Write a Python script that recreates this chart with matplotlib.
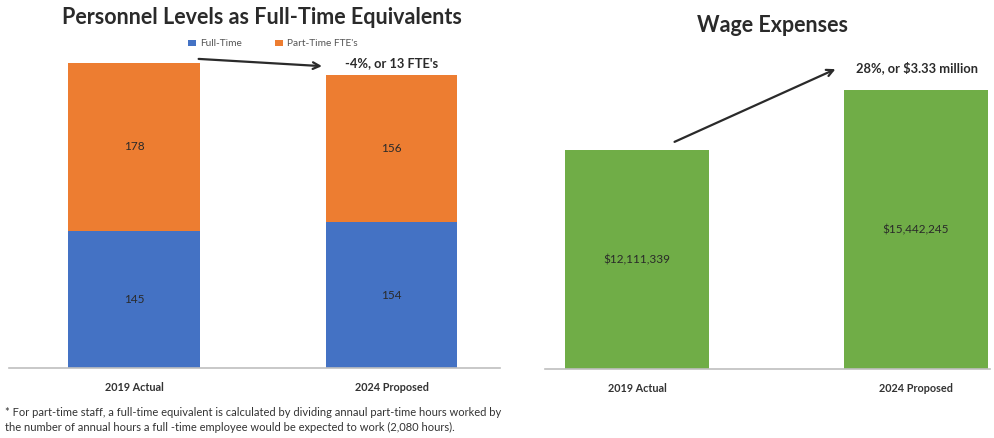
import matplotlib.pyplot as plt

# data
years = ['2019 Actual', '2024 Proposed']
full_time = [145, 154]
part_time = [178, 156]
wages = [12111339, 15442245]
wage_labels = ['$12,111,339', '$15,442,245']

BLUE = '#4472C4'
ORANGE = '#ED7D31'
GREEN = '#70AD47'
TXT = '#2a2a2a'

plt.rcParams['font.family'] = ['Lato', 'DejaVu Sans']

W, H = 995, 438
fig = plt.figure(figsize=(W / 100, H / 100), dpi=100)


def px_axes(x0, y_base, x1, y_top):
    return fig.add_axes([x0 / W, (H - y_base) / H, (x1 - x0) / W, (y_base - y_top) / H])


# ---- left: personnel ----
ax1 = px_axes(9, 368, 500, 37)
x = range(len(years))
ax1.bar(x, full_time, width=0.51, color=BLUE, label='Full-Time')
ax1.bar(x, part_time, width=0.51, bottom=full_time, color=ORANGE, label="Part-Time FTE's")
for i in x:
    ax1.text(i, full_time[i] / 2, str(full_time[i]), ha='center', va='center', fontsize=8.5, color=TXT)
    ax1.text(i, full_time[i] + part_time[i] / 2, str(part_time[i]), ha='center', va='center',
             fontsize=8.5, color=TXT)
ax1.set_xlim(-0.485, 1.42)
ax1.set_ylim(0, 350)

fig.text(262 / W, 1 - 18 / H, 'Personnel Levels as Full-Time Equivalents', ha='center', va='center',
         fontsize=15.5, fontweight='bold', color=TXT)
fig.legend(*ax1.get_legend_handles_labels(), loc='center', bbox_to_anchor=(273 / W, 1 - 44 / H),
           ncol=2, frameon=False, fontsize=7.3, handlelength=0.8, handleheight=0.5, columnspacing=3.2,
           handletextpad=0.4, labelcolor='#555555')

# change annotation sits just above the 2024 bar
top19 = full_time[0] + part_time[0]
top24 = full_time[1] + part_time[1]
ax1.annotate("-4%, or 13 FTE's", xy=(1, top24), xytext=(0, 4), textcoords='offset points',
             ha='center', va='bottom', fontsize=9.3, fontweight='bold', color=TXT)
ax1.annotate('', xy=(0.74, top24 + 9), xytext=(0.24, top19 + 4),
             arrowprops=dict(arrowstyle='->', color=TXT, lw=1.6, mutation_scale=12))

# ---- right: wages ----
ax2 = px_axes(545, 369, 990, 60)
ax2.bar(x, wages, width=0.516, color=GREEN)
for i in x:
    ax2.text(i, wages[i] / 2, wage_labels[i], ha='center', va='center', fontsize=8.5, color=TXT)
ax2.set_xlim(-0.33, 1.265)
ax2.set_ylim(0, 17.09e6)

fig.text(773 / W, 1 - 25 / H, 'Wage Expenses', ha='center', va='center',
         fontsize=15.5, fontweight='bold', color=TXT)
ax2.annotate('', xy=(838 / W, 1 - 68 / H), xytext=(672 / W, 1 - 143 / H), xycoords='figure fraction',
             arrowprops=dict(arrowstyle='->', color=TXT, lw=1.6, mutation_scale=12))
fig.text(917 / W, 1 - 68 / H, '28%, or $3.33 million', ha='center', va='center', fontsize=9.3,
         fontweight='bold', color=TXT)

for ax in (ax1, ax2):
    ax.set_xticks(list(x))
    ax.set_xticklabels(years, fontsize=7.8, fontweight='bold', color='#333333')
    ax.tick_params(axis='x', length=0, pad=10)
    ax.set_yticks([])
    for s in ('top', 'right', 'left'):
        ax.spines[s].set_visible(False)
    ax.spines['bottom'].set_color('#BFBFBF')
    ax.spines['bottom'].set_linewidth(1.2)

fig.text(5 / W, 1 - 412 / H,
         '* For part-time staff, a full-time equivalent is calculated by dividing annaul part-time hours worked by',
         ha='left', va='center', fontsize=8, color='#333333')
fig.text(5 / W, 1 - 427 / H,
         'the number of annual hours a full -time employee would be expected to work (2,080 hours).',
         ha='left', va='center', fontsize=8, color='#333333')

fig.savefig('out.png', dpi=100)
